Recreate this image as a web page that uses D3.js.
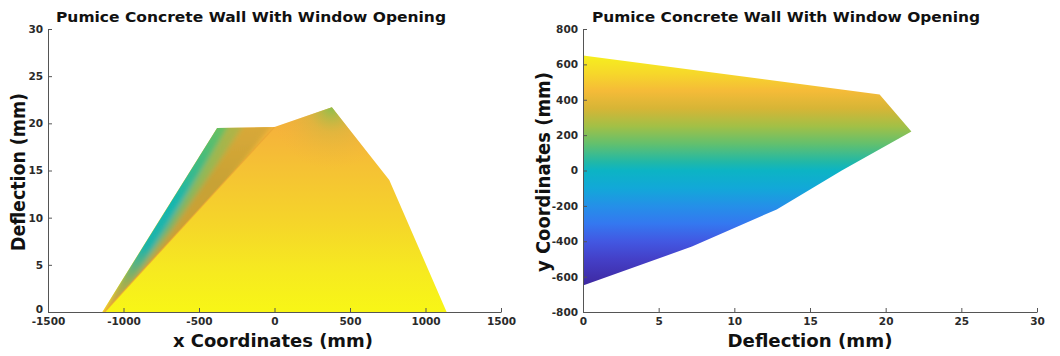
<!DOCTYPE html>
<html>
<head>
<meta charset="utf-8">
<script src="https://cdn.jsdelivr.net/npm/d3@7"></script>
<style>
  html, body { margin: 0; padding: 0; background: #fff; }
  svg { display: block; }
  .tick text { font-family: "DejaVu Sans", sans-serif; font-weight: bold; font-size: 10.5px; fill: #2a2a2a; }
  .axis path, .axis line { stroke: #555; stroke-width: 1; }
  .title, .alabel { font-family: "DejaVu Sans", sans-serif; font-weight: bold; fill: #111; }
</style>
</head>
<body>
<svg id="fig" width="1060" height="356"></svg>
<script>
// ---- data ----------------------------------------------------------------
const chartTitle = "Pumice Concrete Wall With Window Opening";

// Deflection envelope along the wall width (x), nodes in mm
const xNodes = [-1140, -760, -380, 0, 380, 760, 1140];
const deflAlongX = [0, 9.8, 19.5, 19.6, 21.7, 14.0, 0];

// Side face of the wall seen in the x view (outer edge up to the crown at x = 0)
const sideX = [-1140, -380, 0, -1125];
const sideDefl = [0, 19.5, 19.6, 0];

// Deflection envelope along the wall height (y), nodes in mm
const yNodes = [-650, -430, -220, 0, 220, 430, 650];
const deflAlongY = [0, 7.2, 12.8, 17.1, 21.7, 19.6, 0];

// Axis ticks
const xCoordTicks = [-1500, -1000, -500, 0, 500, 1000, 1500];
const deflTicks = [0, 5, 10, 15, 20, 25, 30];
const yCoordTicks = [-800, -600, -400, -200, 0, 200, 400, 600, 800];

// ---- drawing -------------------------------------------------------------
const svg = d3.select("#fig");
const defs = svg.append("defs");
const plain = d => String(d);   // "-1500", no grouping, ASCII minus

function addLinear(id, x1, y1, x2, y2, stops) {
  const g = defs.append("linearGradient").attr("id", id)
    .attr("gradientUnits", "userSpaceOnUse")
    .attr("x1", x1).attr("y1", y1).attr("x2", x2).attr("y2", y2);
  stops.forEach(s => g.append("stop").attr("offset", s[0]).attr("stop-color", s[1]));
}

// ---------- left panel: deflection vs x ----------
const xL = d3.scaleLinear().domain([-1500, 1500]).range([48, 501]);
const yL = d3.scaleLinear().domain([0, 30]).range([312, 29]);

const left = svg.append("g");

// colour of the front face, bottom to top
addLinear("faceGrad", 0, yL(0), 0, yL(21.7), [
  [0, "#f8f616"], [0.2, "#f6ea20"], [0.45, "#f5d42a"], [0.7, "#f5c234"], [0.88, "#f5b43a"], [1, "#f2ac3c"]
]);

const areaX = d3.area()
  .x((d, i) => xL(xNodes[i]))
  .y0(yL(0))
  .y1((d, i) => yL(d));

left.append("path").attr("d", areaX(deflAlongX)).attr("fill", "url(#faceGrad)");

// greenish tint around the highest node
const peakI = deflAlongX.indexOf(d3.max(deflAlongX));
const rg = defs.append("radialGradient").attr("id", "peakGrad")
  .attr("gradientUnits", "userSpaceOnUse")
  .attr("cx", xL(xNodes[peakI])).attr("cy", yL(deflAlongX[peakI])).attr("r", 62);
rg.append("stop").attr("offset", 0).attr("stop-color", "#86c04e").attr("stop-opacity", 0.95);
rg.append("stop").attr("offset", 0.4).attr("stop-color", "#c4b844").attr("stop-opacity", 0.4);
rg.append("stop").attr("offset", 1).attr("stop-color", "#f4b03c").attr("stop-opacity", 0);
left.append("path").attr("d", areaX(deflAlongX)).attr("fill", "url(#peakGrad)");

// side face band, split into three slices and softened
const sidePoly = d3.line().x((d, i) => xL(sideX[i])).y((d, i) => yL(d));
defs.append("clipPath").attr("id", "sideClip")
  .append("path").attr("d", sidePoly(sideDefl) + "Z");
defs.append("filter").attr("id", "soft").attr("x", "-20%").attr("y", "-20%").attr("width", "140%").attr("height", "140%")
  .append("feGaussianBlur").attr("stdDeviation", 2.5);

const sliceColours = [
  [[0, "#eea040"], [0.15, "#a0ae50"], [0.35, "#1eb4aa"], [0.6, "#18b6ae"], [0.85, "#48bc7a"], [1, "#68c062"]],
  [[0, "#eea040"], [0.2, "#bca842"], [0.45, "#7cb466"], [0.75, "#94b854"], [1, "#b0b446"]],
  [[0, "#f0a440"], [0.35, "#cca036"], [0.7, "#c8a234"], [1, "#d8a838"]]
];
const topL = sideX[1], topR = sideX[2];
const sideGroup = left.append("g").attr("clip-path", "url(#sideClip)")
  .append("g").attr("filter", "url(#soft)");
sliceColours.forEach((stops, k) => {
  const id = "side" + k;
  addLinear(id, 0, yL(0), 0, yL(sideDefl[1]), stops);
  const a = topL + (topR - topL) * [0, 0.33, 0.6][k] - (k === 0 ? 60 : 0);
  const b = topL + (topR - topL) * [0.33, 0.6, 1][k] + (k === 2 ? 40 : 0);
  const pts = [[sideX[0] - (k === 0 ? 60 : 0), -2], [a, 21], [b, 21], [sideX[3] + (k === 2 ? 60 : 0), -2]];
  sideGroup.append("path")
    .attr("d", d3.line().x(p => xL(p[0])).y(p => yL(p[1]))(pts) + "Z")
    .attr("fill", `url(#${id})`);
});
// fold between the side face and the front face
left.append("path")
  .attr("d", d3.line().x((d, i) => xL(sideX[3 - i])).y((d, i) => yL(d))([sideDefl[3], sideDefl[2]]))
  .attr("stroke", "#e8a434").attr("stroke-width", 1.2).attr("stroke-opacity", 0.7).attr("fill", "none");

// axes
left.append("g").attr("class", "axis").attr("transform", `translate(0,${yL(0)})`)
  .call(d3.axisBottom(xL).tickValues(xCoordTicks).tickFormat(plain).tickSizeInner(-4).tickSizeOuter(0).tickPadding(6));
const leftY = left.append("g").attr("class", "axis").attr("transform", `translate(${xL(-1500)},0)`)
  .call(d3.axisLeft(yL).tickValues(deflTicks).tickFormat(plain).tickSizeInner(-4).tickSizeOuter(0).tickPadding(5));
// lift the zero label a little so it clears the x labels in the corner
leftY.selectAll(".tick text").filter(d => d === 0).attr("dy", "0.05em");

left.append("text").attr("class", "title").attr("x", 56).attr("y", 22)
  .attr("font-size", 14).attr("textLength", 390).attr("lengthAdjust", "spacingAndGlyphs").text(chartTitle);
left.append("text").attr("class", "alabel").attr("x", 273).attr("y", 347).attr("text-anchor", "middle")
  .attr("font-size", 18).attr("textLength", 200).attr("lengthAdjust", "spacingAndGlyphs").text("x Coordinates (mm)");
left.append("text").attr("class", "alabel").attr("transform", "translate(25,172) rotate(-90)").attr("text-anchor", "middle")
  .attr("font-size", 19).attr("textLength", 158).attr("lengthAdjust", "spacingAndGlyphs").text("Deflection (mm)");

// ---------- right panel: y vs deflection ----------
const xR = d3.scaleLinear().domain([0, 30]).range([583, 1037]);
const yR = d3.scaleLinear().domain([-800, 800]).range([312, 29]);
const right = svg.append("g");

// colour by height
const heightColour = d3.scaleLinear()
  .domain([650, 550, 450, 350, 250, 150, 50, 0, -100, -200, -300, -400, -500, -650])
  .range(["#f6ef1e", "#f6d82a", "#f5bb38", "#d6b536", "#a2c046", "#62c06e", "#22b8a6", "#0cb4c4",
          "#12a8d8", "#2490e8", "#3478f0", "#4258e2", "#4440c8", "#3e28a0"]);
addLinear("heightGrad", 0, yR(650), 0, yR(-650),
  heightColour.domain().map(v => [(650 - v) / 1300, heightColour(v)]));

const areaY = d3.area()
  .y((d, i) => yR(yNodes[i]))
  .x0(xR(0))
  .x1(d => xR(d));
right.append("path").attr("d", areaY(deflAlongY)).attr("fill", "url(#heightGrad)");

right.append("g").attr("class", "axis").attr("transform", `translate(0,${yR(-800)})`)
  .call(d3.axisBottom(xR).tickValues(deflTicks).tickFormat(plain).tickSizeInner(-4).tickSizeOuter(0).tickPadding(6));
right.append("g").attr("class", "axis").attr("transform", `translate(${xR(0)},0)`)
  .call(d3.axisLeft(yR).tickValues(yCoordTicks).tickFormat(plain).tickSizeInner(-4).tickSizeOuter(0).tickPadding(5));

right.append("text").attr("class", "title").attr("x", 592).attr("y", 22)
  .attr("font-size", 14).attr("textLength", 388).attr("lengthAdjust", "spacingAndGlyphs").text(chartTitle);
right.append("text").attr("class", "alabel").attr("x", 810).attr("y", 347).attr("text-anchor", "middle")
  .attr("font-size", 18).attr("textLength", 165).attr("lengthAdjust", "spacingAndGlyphs").text("Deflection (mm)");
right.append("text").attr("class", "alabel").attr("transform", "translate(550,172) rotate(-90)").attr("text-anchor", "middle")
  .attr("font-size", 19).attr("textLength", 200).attr("lengthAdjust", "spacingAndGlyphs").text("y Coordinates (mm)");
</script>
</body>
</html>
